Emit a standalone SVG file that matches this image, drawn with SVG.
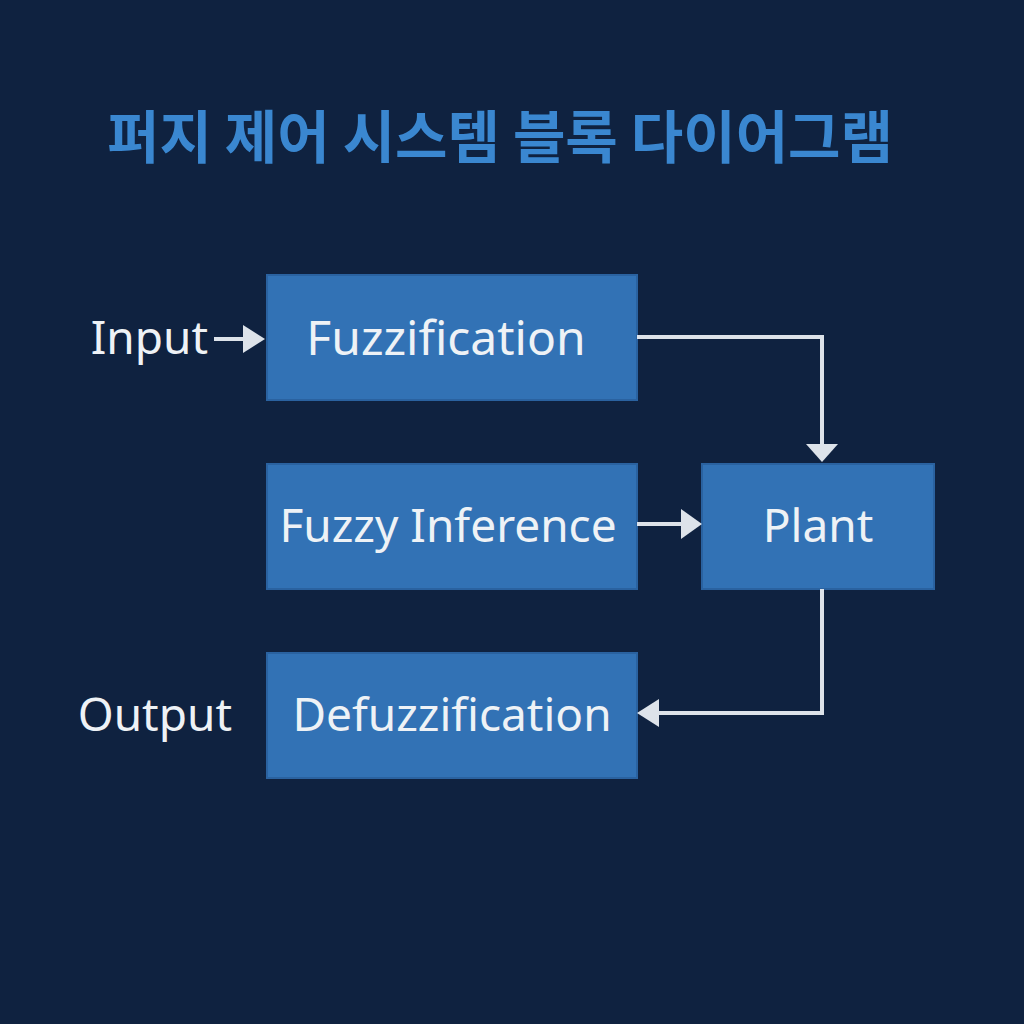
<svg xmlns="http://www.w3.org/2000/svg" width="1024" height="1024" viewBox="0 0 1024 1024">
<style>
.box{fill:#3272b5;stroke:#2a62a0;stroke-width:2}
.lbl{font-family:"Noto Sans","Open Sans",sans-serif;font-size:46px;fill:#eef2f6;text-anchor:middle}
.side{font-family:"Noto Sans","Open Sans",sans-serif;font-size:46px;fill:#eef2f6;text-anchor:end}
.wire{fill:none;stroke:#dde3ea;stroke-width:4}
.head{fill:#dde3ea}
</style>
<rect width="1024" height="1024" fill="#0f2240"/>
<text x="500" y="158" font-family="'Noto Sans CJK KR',sans-serif" font-weight="bold" font-size="57" fill="#3a87d0" text-anchor="middle">퍼지 제어 시스템 블록 다이어그램</text>
<g id="fuzzification"><rect class="box" x="267" y="275" width="370" height="125"/><text class="lbl" x="446" y="355" style="font-size:48px">Fuzzification</text></g>
<g id="inference"><rect class="box" x="267" y="464" width="370" height="125"/><text class="lbl" x="448" y="542">Fuzzy Inference</text></g>
<g id="plant"><rect class="box" x="702" y="464" width="232" height="125"/><text class="lbl" x="818" y="542">Plant</text></g>
<g id="defuzzification"><rect class="box" x="267" y="653" width="370" height="125"/><text class="lbl" x="452" y="731">Defuzzification</text></g>
<g id="input"><text class="side" x="208" y="354">Input</text></g>
<g id="output"><text class="side" x="232" y="731">Output</text></g>
<g id="connectors">
<path class="wire" d="M214,339 H246"/><polygon class="head" points="243,325 265,339 243,353"/>
<path class="wire" d="M637,337 H822 V446"/><polygon class="head" points="806,444 838,444 822,462"/>
<path class="wire" d="M637,524 H684"/><polygon class="head" points="681,509 702,524 681,539"/>
<path class="wire" d="M822,589 V713 H656"/><polygon class="head" points="659,699 637,713 659,727"/>
</g>
</svg>
